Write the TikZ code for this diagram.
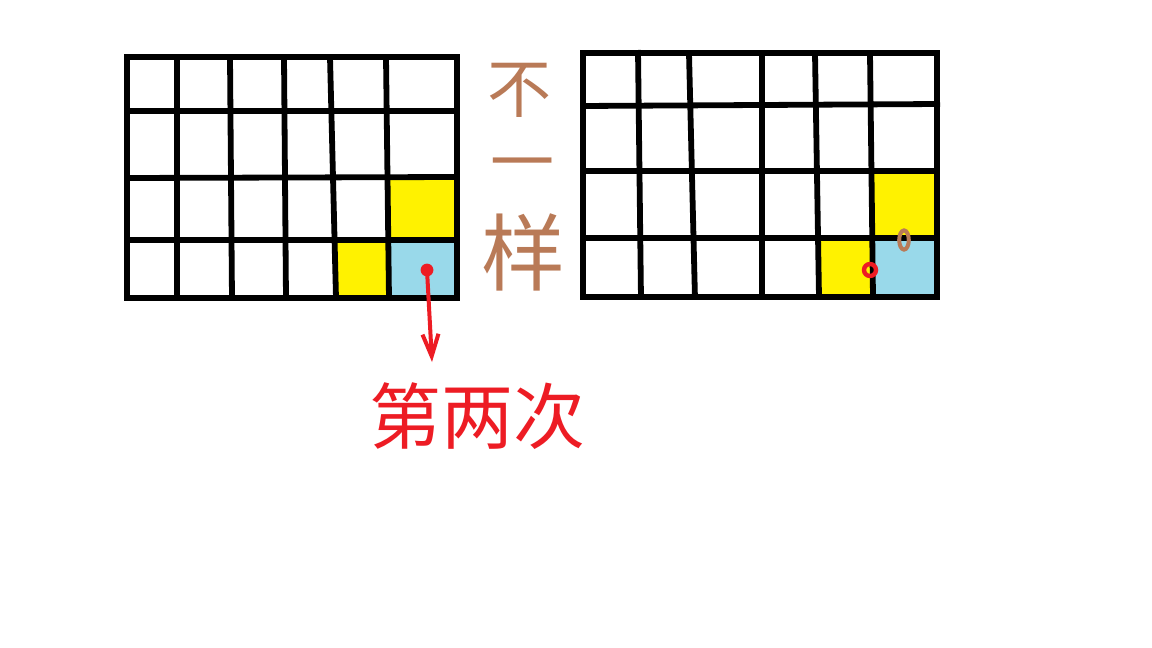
\documentclass[tikz,border=0pt]{standalone}
\usepackage{fontspec}
\newfontfamily\cjk{Noto Sans CJK SC}
\usetikzlibrary{arrows.meta}
\definecolor{pyellow}{HTML}{FFF200}
\definecolor{pblue}{HTML}{99D9EA}
\definecolor{pred}{HTML}{ED1C24}
\definecolor{pbrown}{HTML}{B97A57}
\begin{document}
\begin{tikzpicture}[x=0.5pt,y=-0.5pt,
  gridline/.style={line width=2.9pt, black},
  redtext/.style={text=pred, inner sep=0pt, font=\cjk\fontsize{36pt}{40pt}\selectfont},
  browntext/.style={text=pbrown, inner sep=0pt, font=\cjk\fontsize{32pt}{36pt}\selectfont},
  redline/.style={pred, line width=2pt, line cap=round}]
\useasboundingbox[fill=white] (0,0) rectangle (1152,648);

% ---- left grid ----
\fill[pyellow] (388,178) rectangle (457,240);
\fill[pyellow] (334,240) rectangle (388,298);
\fill[pblue] (388,240) rectangle (457,298);
\draw[gridline] (127,57) rectangle (457,298);
\draw[gridline] (127,111) -- (459,111);
\draw[gridline] (126,178) -- (457,177);
\draw[gridline] (127,240) -- (459,240);
\draw[gridline] (177,57) -- (177,298);
\draw[gridline] (230,57) -- (232,299);
\draw[gridline] (284,57) -- (286,299);
\draw[gridline] (330,57) -- (336,298);
\draw[gridline] (386,57) -- (389,299);

% ---- right grid ----
\fill[pyellow] (872,171) rectangle (937,238);
\fill[pyellow] (818,238) rectangle (872,297);
\fill[pblue] (872,238) rectangle (937,297);
\draw[gridline] (583,53) rectangle (937,297);
\draw[gridline] (581,106) -- (940,104);
\draw[gridline] (581,171) -- (937,171);
\draw[gridline] (583,238) -- (937,238);
\draw[gridline] (638,50) -- (641,299);
\draw[gridline] (689,53) -- (695,299);
\draw[gridline] (762,53) -- (762,297);
\draw[gridline] (815,53) -- (819,297);
\draw[gridline] (870,53) -- (873,297);

% ---- marks ----
\coordinate (dot) at (427,270);
\coordinate (tip) at (432,362);
\fill[pred] (dot) circle (3.2pt);
\draw[redline, -{Straight Barb[length=11pt,width=8pt,line width=2pt]}] (dot) -- (tip);
\coordinate (ring) at (870,270);
\draw[pred, line width=2.2pt] (ring) circle (3pt);
\coordinate (oval) at (904,240);
\draw[pbrown, line width=2pt] (oval) ellipse (2.4pt and 4.8pt);

% ---- texts ----
\node[redtext] (second) at (477,416) {第两次};
\node[browntext] (bu) at (519,90) {不};
\node[browntext] (yi) at (522,172) {一};
\node[browntext, font=\cjk\fontsize{42pt}{46pt}\selectfont] (yang) at (523,252) {样};
\end{tikzpicture}
\end{document}
